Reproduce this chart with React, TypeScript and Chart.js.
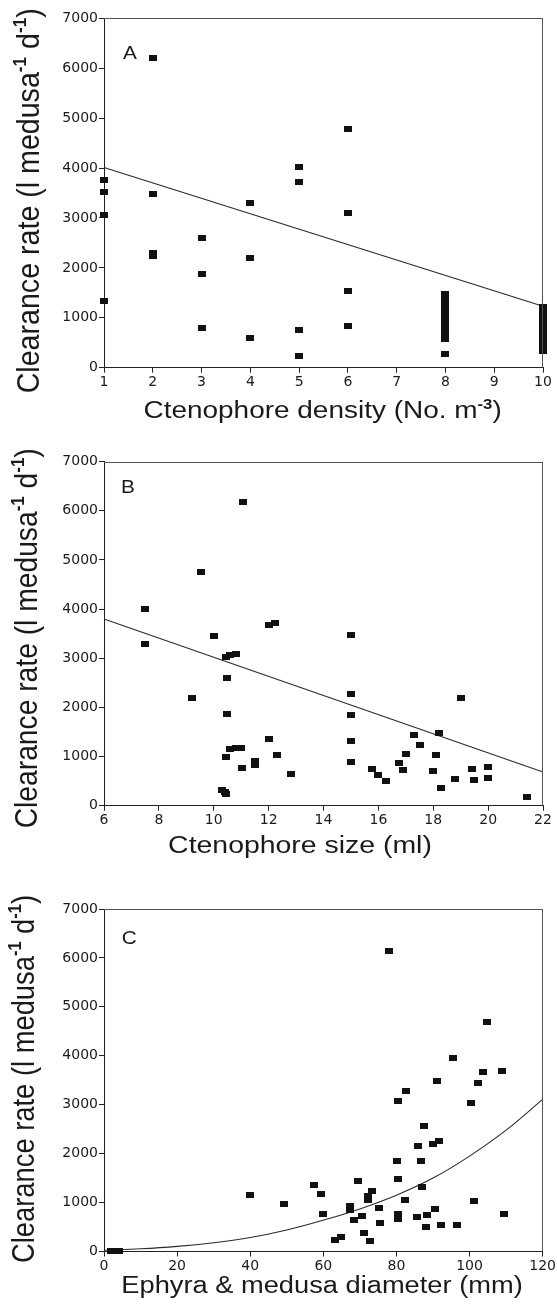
import React, { useEffect, useRef } from "react";
import { Chart, registerables } from "chart.js";

Chart.register(...registerables);

// ---------- Panel A: ctenophore density ----------
const densityX = [1, 1, 1, 1, 2, 2, 2, 2, 3, 3, 3, 4, 4, 4, 5, 5, 5, 5, 6, 6, 6, 6,
  8, 8, 8, 8, 8, 8, 8, 8, 8, 8, 8, 8,
  10, 10, 10, 10, 10, 10, 10, 10, 10, 10];
const densityY = [3760, 3527, 3067, 1340, 6200, 3473, 2300, 2233, 2593, 1873, 787, 3307, 2200, 587,
  4027, 3727, 760, 240, 4773, 3107, 1527, 827,
  1470, 1380, 1290, 1200, 1110, 1005, 905, 820, 739, 639, 571, 265,
  1207, 1110, 1010, 915, 820, 720, 620, 530, 430, 339];
const densityFitX = [1, 10];
const densityFitY = [4010, 1230];

// ---------- Panel B: ctenophore size ----------
const sizeX = [7.5, 7.5, 9.2, 9.55, 10.0, 10.45, 10.6, 10.8, 10.5, 10.5, 10.43, 10.6, 10.8, 11.0, 11.02,
  10.3, 10.4, 10.45, 11.05, 11.5, 11.5, 12.0, 12.25, 12.0, 12.3, 12.8,
  15.0, 15.0, 15.0, 15.0, 15.0, 15.78, 15.97, 16.27, 16.75, 16.9, 17.0, 17.3, 17.5, 18.2, 18.09,
  18.0, 18.3, 18.8, 19.0, 19.4, 19.5, 20.0, 20.0, 21.4];
const sizeY = [4000, 3300, 2190, 4750, 3450, 3030, 3060, 3090, 2590, 1860, 983, 1146, 1173, 1173, 760,
  310, 270, 240, 6170, 915, 827, 3680, 3720, 1356, 1037, 644,
  3480, 2268, 1842, 1309, 882, 745, 623, 494, 870, 726, 1051, 1437, 1228, 1484, 1037,
  699, 366, 537, 2187, 740, 522, 780, 557, 183];
const sizeFitX = [6, 22];
const sizeFitY = [3800, 685];

// ---------- Panel C: ephyra & medusa diameter ----------
const diamX = [2, 3.2, 4.2, 40, 49.2, 57.5, 59.3, 60, 63.2, 64.9, 67.2, 67.2, 68.3, 69.6, 70.5, 71.1,
  72.1, 72.1, 72.8, 73.2, 75.1, 75.6, 78, 80.1, 80.3, 80.3, 80.3, 80.3, 80.5, 82.4, 82.6, 85.5,
  85.8, 86.6, 87.1, 87.5, 88.0, 88.4, 89.9, 90.5, 91.0, 91.7, 92.3, 95.4, 96.5, 100.4, 101.2,
  102.2, 103.7, 104.7, 109, 109.3];
const diamY = [20, 10, 15, 1160, 970, 1350, 1170, 760, 238, 300, 925, 843, 646, 1443, 735, 388,
  1129, 1047, 211, 1231, 892, 578, 6150, 1843, 1490, 769, 718, 667, 3068, 1061, 3286, 708,
  2163, 1843, 1320, 2565, 510, 755, 2190, 878, 3476, 2259, 544, 3950, 537, 3034, 1041,
  3442, 3660, 4700, 3694, 776];
const diamFitX = [0, 10, 20, 30, 40, 50, 60, 70, 80, 90, 100, 110, 120];
const diamFitY = [25, 55, 105, 180, 285, 440, 640, 870, 1150, 1500, 1950, 2480, 3110];

const yTitle = [
  { t: "Clearance rate (l medusa" },
  { t: "-1", sup: true },
  { t: " d" },
  { t: "-1", sup: true },
  { t: ")" },
];

type Seg = { t: string; sup?: boolean };

const BASE_FONT = "'Liberation Sans', Arial, sans-serif";

function segFont(s: Seg, size: number) {
  return s.sup ? `bold ${size * 0.6}px ${BASE_FONT}` : `${size}px ${BASE_FONT}`;
}

function drawRich(ctx: CanvasRenderingContext2D, segs: Seg[], cx: number, cy: number, size: number,
  rot: number, sx: number | null, length: number | null, sy: number) {
  ctx.save();
  let natural = 0;
  for (const s of segs) {
    ctx.font = segFont(s, size);
    natural += ctx.measureText(s.t).width;
  }
  ctx.translate(cx, cy);
  ctx.rotate(rot);
  const scaleX = length ? length / natural : (sx || 1);
  ctx.scale(scaleX, sy);
  ctx.textAlign = "left";
  ctx.textBaseline = "alphabetic";
  ctx.fillStyle = "#1a1a1a";
  let x = -natural / 2;
  for (const s of segs) {
    ctx.font = segFont(s, size);
    ctx.fillText(s.t, x, s.sup ? -size * 0.42 : 0);
    x += ctx.measureText(s.t).width;
  }
  ctx.restore();
}

function makeMarker() {
  const c = document.createElement("canvas");
  c.width = 8;
  c.height = 6;
  const g = c.getContext("2d")!;
  g.fillStyle = "#111";
  g.fillRect(0, 0, 8, 6);
  return c;
}

type PanelCfg = {
  top: number; height: number; plotTop: number; plotBottom: number;
  xMin: number; xMax: number; xStep: number;
  xs: number[]; ys: number[]; fitX: number[]; fitY: number[]; smooth: boolean;
  letter: string; letterX: number; letterBase: number;
  xTitle: Seg[]; xTitleCenter: number; xTitleBase: number; xTitleSx: number;
  yTitleBaseX: number; yTitleCenter: number; yTitleLen: number;
};

const PLOT_LEFT = 104;
const PLOT_RIGHT = 543;
const W = 557;

function Panel({ cfg }: { cfg: PanelCfg }) {
  const ref = useRef<HTMLCanvasElement>(null);
  useEffect(() => {
    const canvas = ref.current!;
    const marker = makeMarker();
    const pts = cfg.xs.map((x, i) => ({ x, y: cfg.ys[i] }));
    const fit = cfg.fitX.map((x, i) => ({ x, y: cfg.fitY[i] }));
    const overlay = {
      id: "overlay",
      afterDraw(chart: any) {
        const ctx = chart.ctx as CanvasRenderingContext2D;
        const ca = chart.chartArea;
        ctx.save();
        ctx.strokeStyle = "#555";
        ctx.lineWidth = 1;
        ctx.beginPath();
        ctx.moveTo(ca.left, Math.round(ca.top) + 0.5);
        ctx.lineTo(ca.right, Math.round(ca.top) + 0.5);
        ctx.moveTo(Math.round(ca.right) - 0.5, ca.top);
        ctx.lineTo(Math.round(ca.right) - 0.5, ca.bottom);
        ctx.stroke();
        ctx.restore();
        const off = cfg.top;
        ctx.save();
        ctx.translate(cfg.letterX, cfg.letterBase - off);
        ctx.scale(1.19, 1);
        ctx.font = `17.5px ${BASE_FONT}`;
        ctx.fillStyle = "#1a1a1a";
        ctx.textAlign = "left";
        ctx.textBaseline = "alphabetic";
        ctx.fillText(cfg.letter, 0, 0);
        ctx.restore();
        drawRich(ctx, cfg.xTitle, cfg.xTitleCenter, cfg.xTitleBase - off, 23.3, 0, cfg.xTitleSx, null, 1);
        drawRich(ctx, yTitle, cfg.yTitleBaseX, cfg.yTitleCenter - off, 27, -Math.PI / 2, null, cfg.yTitleLen, 1.15);
      },
    };
    const tickFont = { family: "'DejaVu Sans', sans-serif", size: 14 };
    const chart = new Chart(canvas, {
      type: "scatter",
      data: {
        datasets: [
          {
            data: pts,
            pointStyle: marker as any,
            pointRadius: 4,
            clip: false as any,
            backgroundColor: "#111",
            borderColor: "#111",
          },
          {
            data: fit,
            showLine: true,
            pointRadius: 0,
            borderColor: "#2a2a2a",
            borderWidth: 1.1,
            tension: cfg.smooth ? 0.4 : 0,
            clip: false as any,
          } as any,
        ],
      },
      options: {
        animation: false,
        responsive: false,
        devicePixelRatio: 1,
        events: [],
        layout: {
          padding: { left: 0, right: W - PLOT_RIGHT, top: cfg.plotTop - cfg.top, bottom: 0 },
        },
        plugins: { legend: { display: false }, tooltip: { enabled: false } },
        scales: {
          x: {
            type: "linear",
            position: "bottom",
            min: cfg.xMin,
            max: cfg.xMax,
            afterFit: (s: any) => { s.height = cfg.top + cfg.height - cfg.plotBottom; },
            ticks: {
              stepSize: cfg.xStep, autoSkip: false, maxRotation: 0, color: "#1a1a1a",
              font: tickFont, padding: 1, callback: (v: any) => String(v),
            },
            grid: { drawOnChartArea: false, drawTicks: true, tickLength: 5, color: "#222" },
            border: { display: true, color: "#222", width: 1 },
          },
          y: {
            type: "linear",
            position: "left",
            min: 0,
            max: 7000,
            afterFit: (s: any) => { s.width = PLOT_LEFT; },
            ticks: {
              stepSize: 1000, autoSkip: false, color: "#1a1a1a",
              font: tickFont, padding: 1, callback: (v: any) => String(v),
            },
            grid: { drawOnChartArea: false, drawTicks: true, tickLength: 5, color: "#222" },
            border: { display: true, color: "#222", width: 1 },
          },
        },
      },
      plugins: [overlay],
    } as any);
    return () => chart.destroy();
  }, [cfg]);
  return (
    <canvas
      ref={ref}
      width={W}
      height={cfg.height}
      style={{ position: "absolute", left: 0, top: cfg.top, width: W, height: cfg.height, display: "block" }}
    />
  );
}

const panels: PanelCfg[] = [
  {
    top: 0, height: 430, plotTop: 18.3, plotBottom: 367.7,
    xMin: 1, xMax: 10, xStep: 1,
    xs: densityX, ys: densityY, fitX: densityFitX, fitY: densityFitY, smooth: false,
    letter: "A", letterX: 123, letterBase: 59,
    xTitle: [{ t: "Ctenophore density (No. m" }, { t: "-3", sup: true }, { t: ")" }],
    xTitleCenter: 322.6, xTitleBase: 418.3, xTitleSx: 1.2,
    yTitleBaseX: 39, yTitleCenter: 200.8, yTitleLen: 385,
  },
  {
    top: 430, height: 440, plotTop: 461.7, plotBottom: 805.7,
    xMin: 6, xMax: 22, xStep: 2,
    xs: sizeX, ys: sizeY, fitX: sizeFitX, fitY: sizeFitY, smooth: false,
    letter: "B", letterX: 121, letterBase: 493,
    xTitle: [{ t: "Ctenophore size (ml)" }],
    xTitleCenter: 300, xTitleBase: 853.4, xTitleSx: 1.22,
    yTitleBaseX: 37.4, yTitleCenter: 638.3, yTitleLen: 380,
  },
  {
    top: 870, height: 441, plotTop: 909, plotBottom: 1251.5,
    xMin: 0, xMax: 120, xStep: 20,
    xs: diamX, ys: diamY, fitX: diamFitX, fitY: diamFitY, smooth: true,
    letter: "C", letterX: 121.7, letterBase: 944,
    xTitle: [{ t: "Ephyra & medusa diameter (mm)" }],
    xTitleCenter: 322, xTitleBase: 1293.3, xTitleSx: 1.17,
    yTitleBaseX: 34, yTitleCenter: 1079, yTitleLen: 368,
  },
];

export default function App() {
  return (
    <div style={{ position: "absolute", left: 0, top: 0, width: W, height: 1311, background: "#fff" }}>
      {panels.map((p) => (
        <Panel key={p.letter} cfg={p} />
      ))}
    </div>
  );
}
